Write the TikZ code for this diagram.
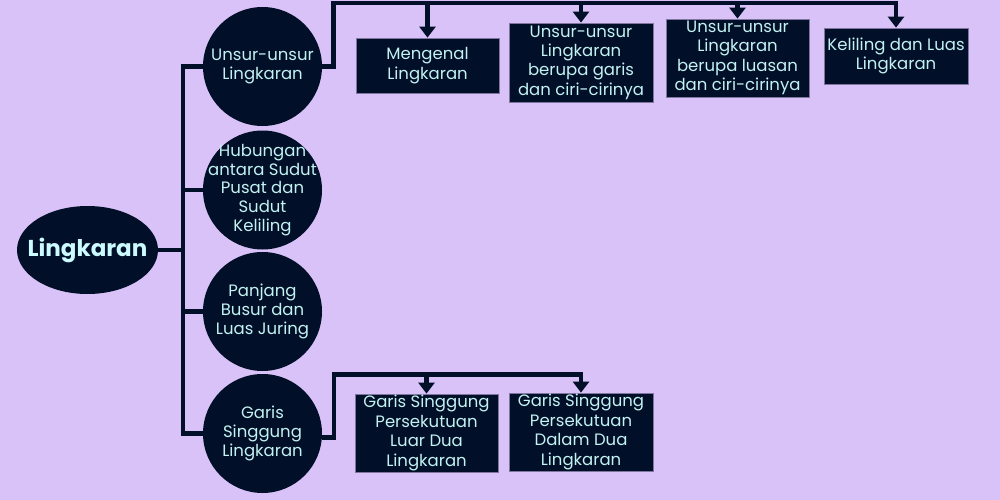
\documentclass[tikz,border=0pt]{standalone}
\usepackage{fontspec}
\setmainfont{Poppins}
\usetikzlibrary{arrows.meta,shapes.geometric}
\definecolor{bg}{HTML}{D9C2F7}
\definecolor{navy}{HTML}{020F29}
\definecolor{txt}{HTML}{C2F2F2}
\definecolor{ttl}{HTML}{CBFBFF}
\definecolor{edge}{HTML}{7F76A0}
\begin{document}
\begin{tikzpicture}[x=1pt,y=-1pt,
  topic/.style={circle, fill=navy, minimum size=119pt, inner sep=0pt},
  topictext/.style={inner sep=0pt, text=txt, align=center, font=\fontsize{16.5}{18.8}\selectfont},
  leaf/.style={rectangle, fill=navy, draw=edge, line width=0.8pt, inner sep=0pt, text=txt, align=center, font=\fontsize{16.5}{19.4}\selectfont},
  titlenode/.style={ellipse, fill=navy, minimum width=141pt, minimum height=88pt, inner sep=0pt},
  titletext/.style={inner sep=0pt, text=ttl, font=\fontsize{23}{23}\selectfont\bfseries},
  conn/.style={draw=navy, line width=4.5pt, line join=miter},
  arr/.style={conn, -{Triangle[width=16pt,length=11pt]}}]
\fill[bg] (0,0) rectangle (1000,500);
\useasboundingbox (0,0) rectangle (1000,500);

\node[titlenode] (L) at (87.5,250) {};
\node[titletext] (Lt) at (L) {Lingkaran};
\node[topic] (c1) at (262.5,66.5) {};
\node[topic] (c2) at (262.5,190) {};
\node[topic] (c3) at (262.5,311.5) {};
\node[topic] (c4) at (262.5,433.5) {};
\node[topictext] (c1t) at (c1) {Unsur-unsur\\Lingkaran};
\node[topictext] (c2t) at (c2) {Hubungan\\antara Sudut\\Pusat dan\\Sudut\\Keliling};
\node[topictext] (c3t) at (c3) {Panjang\\Busur dan\\Luas Juring};
\node[topictext] (c4t) at (c4) {Garis\\Singgung\\Lingkaran};

\node[leaf, minimum width=143pt, minimum height=55pt] (b1) at (427.5,65.5) {Mengenal\\Lingkaran};
\node[leaf, minimum width=144pt, minimum height=79pt] (b2) at (581,62.5) {Unsur-unsur\\Lingkaran\\berupa garis\\dan ciri-cirinya};
\node[leaf, minimum width=143pt, minimum height=78pt] (b3) at (737.5,58) {Unsur-unsur\\Lingkaran\\berupa luasan\\dan ciri-cirinya};
\node[leaf, minimum width=144pt, minimum height=56pt] (b4) at (896,56) {Keliling dan Luas\\Lingkaran};
\node[leaf, minimum width=143pt, minimum height=78pt] (b5) at (426.5,433) {Garis Singgung\\Persekutuan\\Luar Dua\\Lingkaran};
\node[leaf, minimum width=144pt, minimum height=78pt] (b6) at (581,432) {Garis Singgung\\Persekutuan\\Dalam Dua\\Lingkaran};

\coordinate (tTop) at (183,66.5);
\coordinate (tBot) at (183,433.5);
\coordinate (tL) at (183,250);
\coordinate (t2) at (183,190);
\coordinate (t3) at (183,311.5);
\draw[conn] (c1.west) -- (tTop) -- (tBot) -- (c4.west);
\draw[conn] (L.east) -- (tL);
\draw[conn] (c2.west) -- (t2);
\draw[conn] (c3.west) -- (t3);

\coordinate (u1) at (333.5,66.5);
\coordinate (u2) at (333.5,3);
\draw[arr] (c1.east) -- (u1) -- (u2) -| (b4.north);
\draw[arr] (b1.north |- u2) -- (b1.north);
\draw[arr] (b2.north |- u2) -- (b2.north);
\draw[arr] (b3.north |- u2) -- (b3.north);

\coordinate (v1) at (334,437.5);
\coordinate (v2) at (334,374.5);
\draw[arr] ([yshift=-4pt]c4.east) -- (v1) -- (v2) -| (b6.north);
\draw[arr] (b5.north |- v2) -- (b5.north);
\end{tikzpicture}
\end{document}
